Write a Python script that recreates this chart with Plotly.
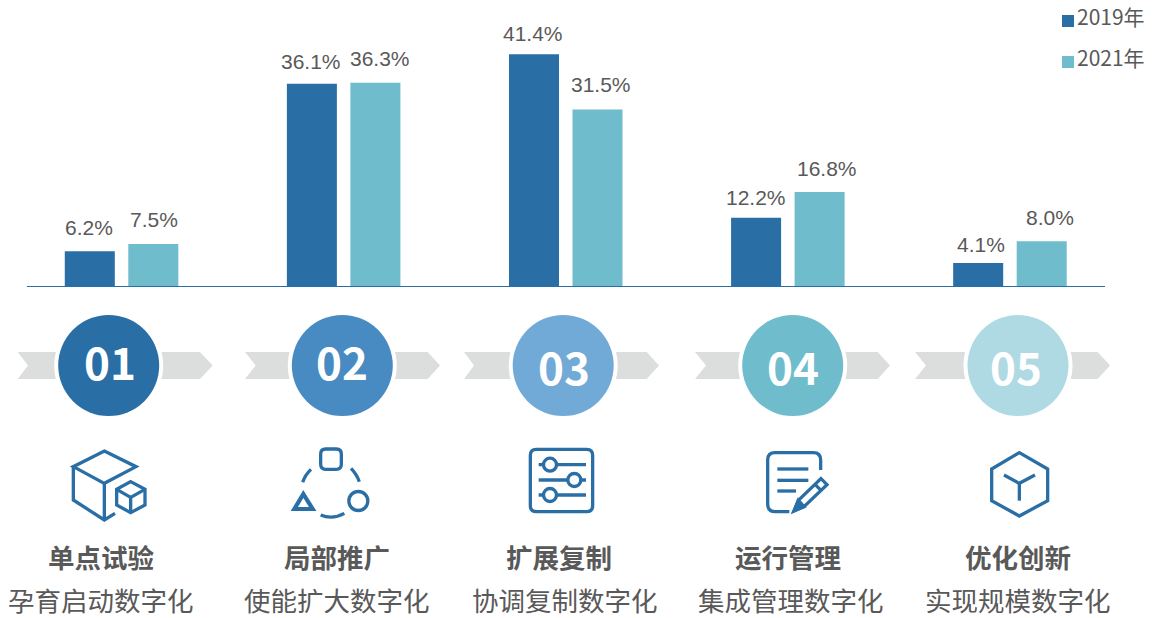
import plotly.graph_objects as go

W, H = 1155, 618
CJK = "Noto Sans CJK SC"
LATIN = "Liberation Sans"
TEXT = "#595959"
BLUE = "#2A6EA6"
TEAL = "#6FBCCD"
GRAY = "#DCDEDD"
LW = 3.3

# ---- data ----
stages = ["单点试验", "局部推广", "扩展复制", "运行管理", "优化创新"]
subtitles = ["孕育启动数字化", "使能扩大数字化", "协调复制数字化", "集成管理数字化", "实现规模数字化"]
numbers = ["01", "02", "03", "04", "05"]
series_names = ["2019年", "2021年"]
values_2019 = [6.2, 36.1, 41.4, 12.2, 4.1]
values_2021 = [7.5, 36.3, 31.5, 16.8, 8.0]
circle_colors = ["#2A6EA6", "#478BC2", "#72AAD7", "#6FBCCC", "#AFDAE4"]

# label placement relative to each bar top (pixels)
nudge_x_2019 = [-1, -1, -1, 0, 2.5]
nudge_x_2021 = [0.5, 5, 3.5, 7, 8.5]
nudge_y_2019 = [10, 9, 7, 7, 5]
nudge_y_2021 = [11, 11, 12, 10, 10]


def px(x):
    return x / W


def py(y):
    return 1 - y / H


fig = go.Figure()
fig.add_bar(x=stages, y=values_2019, name=series_names[0], marker_color=BLUE, marker_line_width=0)
fig.add_bar(x=stages, y=values_2021, name=series_names[1], marker_color=TEAL, marker_line_width=0)

shapes, annos = [], []


def text(x, y, s, size, color=TEXT, family=CJK, bold=False, xanchor="center"):
    annos.append(dict(xref="paper", yref="paper", x=px(x), y=py(y), text=f"<b>{s}</b>" if bold else s,
                      showarrow=False, xanchor=xanchor, yanchor="middle",
                      font=dict(size=size, color=color, family=family),
                      borderpad=0, borderwidth=0))


# data labels, tied to the data values
for vals, shift, nx_, ny_ in ((values_2019, -31.75, nudge_x_2019, nudge_y_2019),
                              (values_2021, 31.75, nudge_x_2021, nudge_y_2021)):
    for cat, v, dx, dy in zip(stages, vals, nx_, ny_):
        annos.append(dict(xref="x", yref="y", x=cat, y=v, text=f"{v:.1f}%", showarrow=False,
                          xshift=shift + dx, yshift=dy, yanchor="bottom",
                          font=dict(size=21, color=TEXT, family=LATIN)))


def rect(x0, y0, x1, y1, color):
    shapes.append(dict(type="rect", xref="paper", yref="paper", x0=px(x0), x1=px(x1), y0=py(y0), y1=py(y1),
                       fillcolor=color, line_width=0, layer="above"))


def circle(cx, cy, r, fill=None, line=None, lw=LW):
    shapes.append(dict(type="circle", xref="paper", yref="paper", x0=px(cx - r), x1=px(cx + r),
                       y0=py(cy + r), y1=py(cy - r), fillcolor=fill or "rgba(0,0,0,0)",
                       line=dict(color=line or "rgba(0,0,0,0)", width=lw if line else 0), layer="above"))


def tok(pt):
    return f"{pt[0] / W:.5f},{1 - pt[1] / H:.5f}"


def path(cmds, fill=None, line=None, lw=LW):
    """cmds: list of (letter, (x, y), ...) in pixels."""
    d = ""
    for c in cmds:
        d += c[0] + " ".join(tok(p) for p in c[1:]) + " "
    shapes.append(dict(type="path", xref="paper", yref="paper", path=d + "", fillcolor=fill or "rgba(0,0,0,0)",
                       line=dict(color=line or "rgba(0,0,0,0)", width=lw if line else 0), layer="above"))


def poly(pts, close=False, ox=0, oy=300, **kw):
    """pts in 3x zoom coordinates of a crop at (ox, oy)."""
    q = [(ox + a / 3, oy + b / 3) for a, b in pts]
    cmds = [("M", q[0])] + [("L", p) for p in q[1:]]
    if close:
        cmds.append(("Z",))
    path(cmds, **kw)


# chevrons + number discs
chev = [(17.7, 28, 200, 212.7), (245, 255.7, 427.7, 440), (464, 474, 646.7, 659),
        (695, 706, 877.7, 890), (915, 926, 1097.7, 1110)]
discs = [(108.7, 365.5), (342.3, 365.5), (563.2, 365.5), (792.7, 365.5), (1018, 365.5)]
num_pos = [(110, 361), (342, 361), (564, 366), (793, 366), (1016, 366)]
for (l, n, s, t), (cx, cy), col, lab, (nx, ny) in zip(chev, discs, circle_colors, numbers, num_pos):
    path([("M", (l, 352)), ("L", (s, 352)), ("L", (t, 365.5)), ("L", (s, 379)), ("L", (l, 379)), ("L", (n, 365.5)), ("Z",)],
         fill=GRAY)
    circle(cx, cy, 54.5, fill="#FFFFFF")
    circle(cx, cy, 50.5, fill=col)
    text(nx, ny, lab, 44, color="#FFFFFF", bold=True)

# icon 1: cubes
poly([(313, 453), (408, 500), (313, 550), (220, 500)], close=True, line=BLUE)
poly([(220, 500), (220, 600), (313, 660), (345, 640)], line=BLUE)
poly([(313, 550), (313, 660)], line=BLUE)
poly([(392, 545), (435, 568), (435, 615), (392, 638), (350, 615), (350, 568)], close=True, line=BLUE)
poly([(350, 568), (392, 592), (435, 568)], line=BLUE)
poly([(392, 592), (392, 638)], line=BLUE)


# icon 2: shapes on a ring
def rrect(x0, y0, x1, y1, r, ox=0, oy=300, **kw):
    X0, Y0, X1, Y1 = ox + x0 / 3, oy + y0 / 3, ox + x1 / 3, oy + y1 / 3
    path([("M", (X0 + r, Y0)), ("L", (X1 - r, Y0)), ("Q", (X1, Y0), (X1, Y0 + r)), ("L", (X1, Y1 - r)),
          ("Q", (X1, Y1), (X1 - r, Y1)), ("L", (X0 + r, Y1)), ("Q", (X0, Y1), (X0, Y1 - r)), ("L", (X0, Y0 + r)),
          ("Q", (X0, Y0), (X0 + r, Y0)), ("Z",)], **kw)


def quad(a, c, b, ox=0, oy=300, **kw):
    f = lambda p: (ox + p[0] / 3, oy + p[1] / 3)
    path([("M", f(a)), ("Q", f(c), f(b))], **kw)


rrect(962, 447, 1024, 508, 5, line=BLUE)
poly([(910, 582), (938, 627), (883, 627)], close=True, line=BLUE, lw=4.2)
circle(1075 / 3, 300 + 603 / 3, 9.5, line=BLUE)
quad((933, 508), (915, 525), (908, 547), line=BLUE)
quad((1053, 505), (1070, 522), (1078, 545), line=BLUE)
quad((962, 645), (997, 660), (1033, 640), line=BLUE)

# icon 3: sliders
rrect(241, 448, 428, 635, 6, ox=450, line=BLUE)
for yy, kx in ((494, 300), (540, 373), (585, 300)):
    poly([(266, yy), (408, yy)], ox=450, line=BLUE)
    circle(450 + kx / 3, 300 + yy / 3, 6.5, fill="#FFFFFF", line=BLUE)

# icon 4: document and pencil
g = lambda a, b: (450 + a / 3, 300 + b / 3)
path([("M", g(1112, 510)), ("L", g(1112, 480)), ("Q", g(1112, 458), g(1090, 458)), ("L", g(975, 458)),
      ("Q", g(953, 458), g(953, 480)), ("L", g(953, 612)), ("Q", g(953, 635), g(975, 635)), ("L", g(1018, 635))],
     line=BLUE)
poly([(982, 507), (1075, 507)], ox=450, line=BLUE)
poly([(982, 541), (1075, 541)], ox=450, line=BLUE)
poly([(982, 573), (1038, 573)], ox=450, line=BLUE)
poly([(1113, 536), (1131, 554), (1062, 620), (1032, 633), (1045, 601)], close=True, ox=450, line=BLUE)
poly([(1095, 553), (1113, 571)], ox=450, line=BLUE)
poly([(1045, 601), (1062, 620), (1032, 633)], close=True, ox=450, fill=BLUE, line=BLUE)

# icon 5: hexagon
poly([(418, 458), (503, 507), (503, 602), (418, 648), (335, 602), (335, 507)], close=True, ox=880, line=BLUE)
poly([(372, 525), (418, 550), (465, 525)], ox=880, line=BLUE)
poly([(418, 550), (418, 602)], ox=880, line=BLUE)

# captions
stage_x = [101, 337, 559, 788, 1018]
sub_x = [101, 337, 565, 791, 1018]
for s, x in zip(stages, stage_x):
    text(x, 556, s, 26.5, bold=True)
for s, x in zip(subtitles, sub_x):
    text(x, 599.5, s, 26.5)

# legend (square sits tight against its label)
for name, col, ysq, yt in ((series_names[0], BLUE, 21, 16), (series_names[1], TEAL, 62, 57)):
    rect(1062, ysq - 6, 1074, ysq + 6, col)
    text(1077, yt, name, 21, xanchor="left")

# axis geometry: baseline 27..1105 px at y=286; 222 px per category; 5.6 px per percent
fig.update_layout(
    width=W, height=H, autosize=False, margin=dict(l=0, r=0, t=0, b=0, pad=0),
    paper_bgcolor="white", plot_bgcolor="white", showlegend=False,
    barmode="group", bargap=0.428, bargroupgap=0.2126,
    font=dict(family=CJK, color=TEXT),
    shapes=shapes, annotations=annos,
    xaxis=dict(domain=[27 / W, 1105 / W], range=[-0.4257, 4.428], showline=True, linecolor=BLUE, linewidth=1,
               showticklabels=False, ticks="", showgrid=False, zeroline=False, anchor="y"),
    yaxis=dict(domain=[1 - 286 / H, 1], range=[0, 286 / 5.6], visible=False, showgrid=False, zeroline=False),
)
fig.write_html("out.html", config=dict(displayModeBar=False),
               post_script="document.body.style.margin='0';document.body.style.overflow='hidden';")
